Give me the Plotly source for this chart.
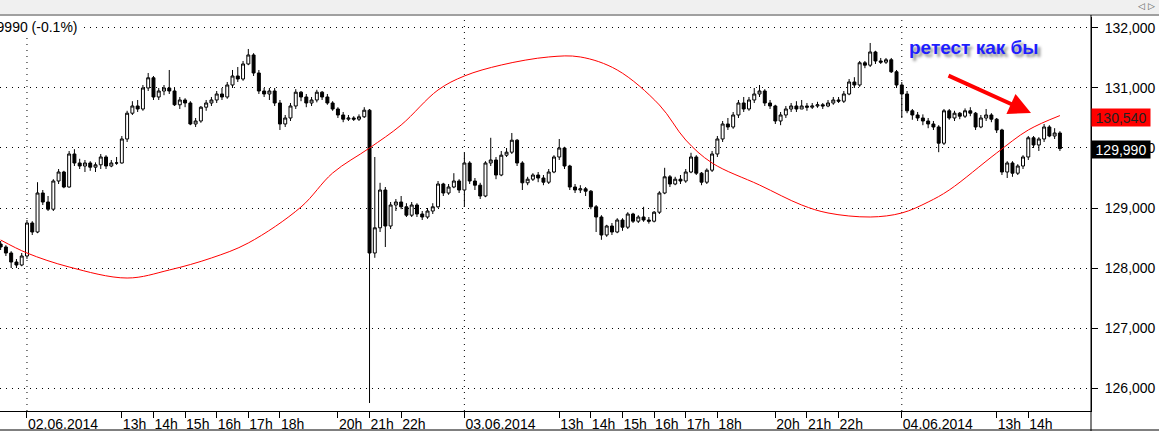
import plotly.graph_objects as go

# ---- data (10-minute bars) ----
opens = [128400,128350,128250,128100,128050,128200,128750,128600,129250,129100,
         128980,129450,129600,129350,129900,129750,129700,129750,129680,129720,
         129850,129700,129750,129750,130150,130580,130700,130650,131000,131170,
         130850,130950,131000,130950,130720,130800,130750,130400,130450,130680,
         130750,130800,130900,130850,131050,131200,131150,131400,131550,131250,
         130950,130900,130950,130750,130400,130500,130700,130930,130850,130750,
         130800,130930,130850,130750,130650,130550,130480,130500,130480,130520,
         130630,128250,128670,129300,128700,129050,129100,129020,128880,129050,
         128900,128850,128950,129020,129400,129250,129350,129450,129300,129750,
         129450,129380,129200,129750,129800,129550,129880,129930,130130,129750,
         129420,129480,129550,129500,129430,129600,129850,130000,129700,129350,
         129300,129320,129280,129020,128850,128550,128700,128600,128800,128680,
         128900,128780,128850,128800,128780,128930,129250,129520,129400,129480,
         129450,129600,129850,129580,129430,129630,129900,130150,130400,130350,
         130550,130750,130650,130800,130900,130950,130750,130700,130450,130550,
         130650,130700,130650,130700,130680,130700,130720,130700,130750,130800,
         130780,130900,131100,131050,131420,131380,131600,131450,131430,131470,
         131270,131050,130900,130620,130550,130500,130450,130400,130350,130080,
         130620,130500,130580,130530,130620,130580,130350,130500,130550,130480,
         130300,129600,129750,129580,129700,129850,130170,130050,130150,130350,
         130200,130250]
highs = [128450,128380,128280,128150,128250,128800,128780,129430,129300,129200,
         129480,129650,129620,129950,129980,129820,129800,129780,129760,129900,
         129880,129800,129850,130200,130620,130780,130800,131050,131250,131200,
         131000,131050,131300,131000,130850,130830,130780,130500,130700,130800,
         130850,130950,131000,131100,131300,131350,131450,131650,131580,131300,
         131000,131000,131000,130800,130550,130750,130980,130950,130900,130850,
         130970,130950,130900,130780,130680,130600,130550,130530,130560,130680,
         130650,129850,129420,129350,129100,129150,129200,129080,129100,129080,
         128950,129000,129080,129450,129420,129400,129580,129480,129920,129780,
         129500,129420,129780,130170,129850,129950,130000,130250,130150,129780,
         129520,129580,129600,129550,129650,129880,130150,130020,129720,129400,
         129380,129350,129300,129050,128880,128720,128750,128830,128830,128930,
         128920,128880,129020,128850,128950,129280,129670,129550,129520,129550,
         129650,129920,129880,129600,129660,129950,130200,130450,130500,130600,
         130800,130850,130850,131000,131050,130980,130800,130720,130600,130700,
         130750,130780,130800,130750,130750,130770,130750,130800,130850,130850,
         130950,131150,131180,131450,131450,131750,131620,131500,131500,131500,
         131300,131100,130950,130650,130600,130560,130500,130450,130380,130650,
         130650,130620,130600,130660,130680,130600,130550,130650,130580,130500,
         130320,129780,129780,129730,129880,130200,130200,130180,130400,130380,
         130330,130280]
lows = [128300,128200,128000,128000,128030,128150,128550,128580,129050,128950,
        128950,129400,129330,129340,129700,129650,129600,129620,129600,129650,
        129650,129680,129720,129740,130100,130550,130600,130620,130950,130800,
        130800,130880,130900,130700,130650,130680,130380,130350,130420,130620,
        130700,130750,130800,130820,131000,131100,131120,131380,131200,130900,
        130850,130800,130700,130300,130350,130450,130650,130780,130680,130700,
        130760,130800,130720,130620,130500,130430,130450,130450,130450,130500,
        125750,128170,128600,128350,128650,128950,128980,128850,128850,128850,
        128800,128820,128900,129000,129200,129220,129330,129250,129020,129400,
        129300,129150,129180,129700,129480,129530,129850,129900,129700,129300,
        129380,129450,129430,129380,129400,129580,129800,129650,129300,129250,
        129250,129200,128980,128600,128470,128520,128550,128580,128620,128650,
        128750,128750,128770,128740,128760,128900,129230,129350,129380,129400,
        129420,129580,129550,129380,129400,129600,129850,130100,130300,130320,
        130500,130600,130620,130750,130850,130700,130650,130400,130380,130500,
        130600,130600,130650,130620,130650,130670,130650,130680,130720,130750,
        130750,130880,131000,131020,131330,131350,131400,131400,131400,131250,
        131000,130500,130580,130470,130450,130380,130330,130300,129930,130050,
        130470,130450,130480,130500,130530,130300,130330,130450,130430,130250,
        129550,129500,129520,129550,129650,129800,130000,129950,130100,130180,
        130150,129950]
closes = [128350,128250,128100,128050,128200,128750,128600,129250,129100,128980,
          129450,129600,129350,129900,129750,129700,129750,129680,129720,129850,
          129700,129750,129750,130150,130580,130700,130650,131000,131170,130850,
          130950,131000,130950,130720,130800,130750,130400,130450,130680,130750,
          130800,130900,130850,131050,131200,131150,131400,131550,131250,130950,
          130900,130950,130750,130400,130500,130700,130930,130850,130750,130800,
          130930,130850,130750,130650,130550,130480,130500,130480,130520,130630,
          128250,128670,129300,128700,129050,129100,129020,128880,129050,128900,
          128850,128950,129020,129400,129250,129350,129450,129300,129750,129450,
          129380,129200,129750,129800,129550,129880,129930,130130,129750,129420,
          129480,129550,129500,129430,129600,129850,130000,129700,129350,129300,
          129320,129280,129020,128850,128550,128700,128600,128800,128680,128900,
          128780,128850,128800,128780,128930,129250,129520,129400,129480,129450,
          129600,129850,129580,129430,129630,129900,130150,130400,130350,130550,
          130750,130650,130800,130900,130950,130750,130700,130450,130550,130650,
          130700,130650,130700,130680,130700,130720,130700,130750,130800,130780,
          130900,131100,131050,131420,131380,131600,131450,131430,131470,131270,
          131050,130900,130620,130550,130500,130450,130400,130350,130080,130620,
          130500,130580,130530,130620,130580,130350,130500,130550,130480,130300,
          129600,129750,129580,129700,129850,130170,130050,130150,130350,130200,
          130250,129990]

# moving-average line, read at selected bars
ma_bar = [0, 5, 13, 24, 32, 40, 47, 57, 63, 70, 76, 83, 88, 95, 104, 110, 117, 125,
          130, 135, 144, 152, 157, 165, 171, 176, 180, 189, 195, 201]
ma_val = [128467, 128250, 128017, 127833, 127967, 128167, 128417, 129017, 129583,
          130000, 130383, 130967, 131200, 131383, 131517, 131517, 131300, 130717,
          130133, 129750, 129383, 129050, 128917, 128850, 128917, 129100, 129300,
          129917, 130300, 130540]

tick_bars = [5, 23, 29, 35, 41, 47, 53, 64, 70, 76, 88, 106, 112, 118, 124, 130, 136,
             147, 153, 159, 171, 189, 195]
tick_text = ["02.06.2014", "13h", "14h", "15h", "16h", "17h", "18h", "20h", "21h", "22h",
             "03.06.2014", "13h", "14h", "15h", "16h", "17h", "18h", "20h", "21h", "22h",
             "04.06.2014", "13h", "14h"]
day_bars = [5, 88, 171]

last_price = 129990
ma_last = 130540
header_text = "129990 (-0.1%)"
note_text = "ретест как бы"

bars = list(range(len(closes)))

W, H = 1159, 431
ML, MR, MT, MB = 0, 68, 17, 20
PW, PH = W - ML - MR, H - MT - MB

def px_x(p):
    return (p - ML) / PW

def px_y(p):
    return (H - MB - p) / PH

FONT = "Liberation Sans, Arial, sans-serif"

fig = go.Figure()
fig.add_trace(go.Candlestick(
    x=bars, open=opens, high=highs, low=lows, close=closes,
    increasing=dict(line=dict(color="black", width=1), fillcolor="white"),
    decreasing=dict(line=dict(color="black", width=1), fillcolor="black"),
    whiskerwidth=0, showlegend=False, hoverinfo="skip"))
fig.add_trace(go.Scatter(
    x=ma_bar, y=ma_val, mode="lines",
    line=dict(color="#ff0000", width=1, shape="spline", smoothing=1.0),
    showlegend=False, hoverinfo="skip"))

shapes = []
for b in day_bars:
    shapes.append(dict(type="line", xref="x", yref="paper", x0=b, x1=b, y0=0, y1=1,
                       line=dict(color="black", width=1, dash="1px,5px"), layer="below"))
# top grey bar
shapes.append(dict(type="rect", xref="paper", yref="paper", x0=px_x(0), x1=px_x(W),
                   y0=px_y(15), y1=px_y(0), fillcolor="#f0f0f0", line=dict(width=0)))
shapes.append(dict(type="line", xref="paper", yref="paper", x0=px_x(0), x1=px_x(W),
                   y0=px_y(15), y1=px_y(15), line=dict(color="#a0a0a0", width=2)))
# right frame line and bottom border
shapes.append(dict(type="line", xref="paper", yref="paper", x0=1, x1=1,
                   y0=px_y(H), y1=px_y(15), line=dict(color="black", width=1)))
shapes.append(dict(type="line", xref="paper", yref="paper", x0=px_x(0), x1=px_x(W),
                   y0=px_y(430), y1=px_y(430), line=dict(color="black", width=1)))

annotations = [
    dict(text=header_text, xref="paper", yref="paper", x=px_x(80), y=px_y(27),
         xanchor="right", yanchor="middle", showarrow=False, bgcolor="white",
         font=dict(family=FONT, size=14, color="black")),
    dict(text="◁ ▷", xref="paper", yref="paper", x=px_x(1146), y=px_y(6),
         xanchor="center", yanchor="middle", showarrow=False,
         font=dict(family=FONT, size=9, color="#555555")),
    dict(text=f"{ma_last:,}", xref="paper", yref="y", x=1.0, y=ma_last - 40,
         xanchor="left", yanchor="middle", showarrow=False, bgcolor="#ff0000",
         width=56, height=15, borderpad=1, align="center",
         font=dict(family=FONT, size=14, color="#222222")),
    dict(text=f"{last_price:,}", xref="paper", yref="y", x=1.0, y=last_price - 20,
         xanchor="left", yanchor="middle", showarrow=False, bgcolor="black",
         width=56, height=15, borderpad=1, align="center",
         font=dict(family=FONT, size=14, color="white")),
    dict(text=f"<b>{note_text}</b>", xref="paper", yref="paper", x=px_x(974), y=px_y(48),
         xanchor="center", yanchor="middle", showarrow=False,
         font=dict(family=FONT, size=19, color="#1e1eff", shadow="3px 3px 3px #909090")),
    dict(text="", xref="paper", yref="paper", x=px_x(1031), y=px_y(113),
         ax=-84, ay=-38, showarrow=True, arrowhead=2, arrowsize=1.1, arrowwidth=4,
         arrowcolor="#ff0000"),
]

fig.update_layout(
    width=W, height=H,
    margin=dict(l=ML, r=MR, t=MT, b=MB, pad=0, autoexpand=False),
    paper_bgcolor="white", plot_bgcolor="white",
    boxgap=0.2,
    shapes=shapes, annotations=annotations,
    xaxis=dict(range=[-0.12, 206.9], tickmode="array", tickvals=tick_bars, ticktext=tick_text,
               ticks="outside", ticklen=6, tickcolor="black", tickwidth=1, tickangle=0,
               ticklabelposition="outside right", automargin=False,
               showline=True, linecolor="black", linewidth=1, showgrid=False, zeroline=False,
               rangeslider=dict(visible=False),
               tickfont=dict(family=FONT, size=14, color="black")),
    yaxis=dict(range=[125617, 132183], side="right", dtick=1000, tick0=0, tickformat=",d",
               ticks="outside", ticklen=6, tickcolor="black", automargin=False,
               showline=True, linecolor="black", linewidth=1,
               showgrid=True, gridcolor="black", gridwidth=1, griddash="1px,5px",
               zeroline=False, ticklabelstandoff=4,
               tickfont=dict(family=FONT, size=14, color="black")),
)

fig.write_html("out.html", config={"displayModeBar": False},
               post_script="document.body.style.margin='0';document.body.style.overflow='hidden';")
